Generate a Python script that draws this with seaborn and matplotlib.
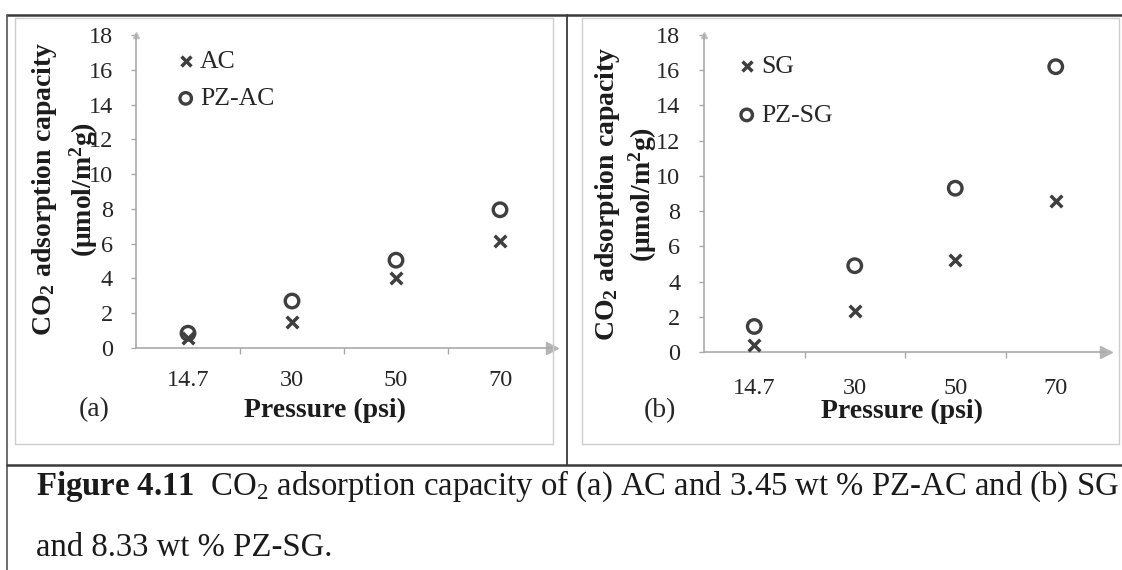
import matplotlib
matplotlib.use("Agg")
import matplotlib.pyplot as plt
from matplotlib.lines import Line2D
from matplotlib.ticker import FixedLocator, FixedFormatter, NullFormatter
import seaborn as sns
import pandas as pd

# ---- data -------------------------------------------------------------
pressure = ["14.7", "30", "50", "70"]          # psi, categorical axis
ac = [0.55, 1.5, 4.0, 6.15]                    # AC
pz_ac = [0.85, 2.7, 5.05, 7.95]                # 3.45 wt % PZ-AC
sg = [0.4, 2.35, 5.2, 8.55]                    # SG
pz_sg = [1.45, 4.9, 9.3, 16.2]                 # 8.33 wt % PZ-SG
y_ticks = [0, 2, 4, 6, 8, 10, 12, 14, 16, 18]

# ---- style ------------------------------------------------------------
sns.set_theme(style="white")
plt.rcParams["font.family"] = ["Liberation Serif", "DejaVu Serif"]
plt.rcParams["mathtext.fontset"] = "custom"
plt.rcParams["mathtext.rm"] = "Liberation Serif"
plt.rcParams["mathtext.it"] = "Liberation Serif:italic"
plt.rcParams["mathtext.bf"] = "Liberation Serif:bold"

W, H = 1122, 570
MARK = "#3f3f3f"
TXT = "#262626"
AXIS = "#a9a9a9"
FRAME = "#3a3a3a"
BOX = "#cdcdcd"


def fx(px):
    return px / W


def fy(py):
    return 1 - py / H


fig = plt.figure(figsize=(W / 100, H / 100), dpi=100)
fig.patch.set_facecolor("white")


def panel(rect, xs, cross, ring, names, ylab_pad, xlab_pad, legend_top, legend_x, spacing):
    ax = fig.add_axes(rect)
    ax.set_facecolor("none")
    df = pd.DataFrame({"pressure": xs, "cross": cross, "ring": ring})
    sns.scatterplot(data=df, x="pressure", y="cross", marker="x", s=70,
                    color=MARK, linewidth=2.5, label=names[0], ax=ax, zorder=3)
    sns.scatterplot(data=df, x="pressure", y="ring", marker="o", s=95,
                    facecolor="none", edgecolor=MARK, linewidth=2.4,
                    label=names[1], ax=ax, zorder=3)
    ax.set_xlim(-0.5, 3.5)
    ax.set_ylim(0, 18)
    ax.set_xlabel("")
    ax.set_ylabel("")

    # category boundaries carry the tick marks, centres carry the labels
    ax.xaxis.set_major_locator(FixedLocator([0.5, 1.5, 2.5]))
    ax.xaxis.set_major_formatter(NullFormatter())
    ax.xaxis.set_minor_locator(FixedLocator([0, 1, 2, 3]))
    ax.xaxis.set_minor_formatter(FixedFormatter(xs))
    ax.tick_params(axis="x", which="major", length=4.5, width=1.0,
                   color=AXIS, direction="out", bottom=True)
    ax.tick_params(axis="x", which="minor", length=0, pad=xlab_pad,
                   labelsize=17.5, labelcolor=TXT, bottom=True)
    ax.set_yticks(y_ticks)
    ax.set_yticklabels([str(v) for v in y_ticks])
    ax.tick_params(axis="y", length=3.6, width=1.0, color=AXIS,
                   direction="out", pad=ylab_pad, labelsize=17.5,
                   labelcolor=TXT, left=True)

    for side in ("top", "right"):
        ax.spines[side].set_visible(False)
    for side in ("left", "bottom"):
        ax.spines[side].set_color(AXIS)
        ax.spines[side].set_linewidth(1.2)
    ax.plot([1], [0], marker=">", ms=8, color="#b5b5b5",
            transform=ax.transAxes, clip_on=False)
    ax.plot([0], [1], marker="^", ms=5, color="#c0c0c0",
            transform=ax.transAxes, clip_on=False)

    ax.legend(loc="upper left", bbox_to_anchor=(fx(legend_x), fy(legend_top)),
              bbox_transform=fig.transFigure, frameon=False, borderpad=0,
              borderaxespad=0, handlelength=0.6, handletextpad=0.25,
              labelspacing=spacing, fontsize=18.5, markerscale=0.85,
              labelcolor=TXT)
    return ax


axL = panel([fx(136), fy(348), fx(552) - fx(136), (348 - 35) / H],
            pressure, ac, pz_ac, ["AC", "PZ-AC"],
            ylab_pad=13, xlab_pad=16, legend_top=50, legend_x=178, spacing=0.55)
axR = panel([fx(704), fy(352), fx(1106) - fx(704), (352 - 35) / H],
            pressure, sg, pz_sg, ["SG", "PZ-SG"],
            ylab_pad=13.5, xlab_pad=18.5, legend_top=55, legend_x=739, spacing=1.0)

# axis titles
for x1, x2, yc in ((45, 84, 189), (607, 643, 194)):
    fig.text(fx(x1), fy(yc), r"CO$_\mathbf{2}$ adsorption capacity", rotation=90,
             ha="center", va="center", fontsize=20, fontweight="bold", color="#1c1c1c")
    fig.text(fx(x2), fy(yc), r"(μmol/m$^\mathbf{2}$g)", rotation=90,
             ha="center", va="center", fontsize=20, fontweight="bold", color="#1c1c1c")

fig.text(fx(94), fy(410), "(a)", ha="center", va="center", fontsize=20, color=TXT)
fig.text(fx(325), fy(410), "Pressure (psi)", ha="center", va="center",
         fontsize=20, fontweight="bold", color="#1c1c1c")
fig.text(fx(660), fy(411), "(b)", ha="center", va="center", fontsize=20, color=TXT)
fig.text(fx(902), fy(411), "Pressure (psi)", ha="center", va="center",
         fontsize=20, fontweight="bold", color="#1c1c1c")

# page frame around the two panels and the caption
def rule(x0, y0, x1, y1, color, lw):
    fig.add_artist(Line2D([fx(x0), fx(x1)], [fy(y0), fy(y1)], color=color,
                          lw=lw, transform=fig.transFigure))

rule(15, 18, 553, 18, BOX, 1.0)
rule(15, 444, 553, 444, BOX, 1.0)
rule(15, 18, 15, 444, BOX, 1.0)
rule(553, 18, 553, 444, BOX, 1.0)
rule(582, 18, 1119, 18, BOX, 1.0)
rule(582, 444, 1119, 444, BOX, 1.0)
rule(582, 18, 582, 444, BOX, 1.0)
rule(1119, 18, 1119, 444, BOX, 1.0)
rule(7, 15, W, 15, FRAME, 1.8)
rule(7, 15, 7, H, "#555555", 1.2)
rule(567, 15, 567, 465, FRAME, 1.3)
rule(7, 465, W, 465, FRAME, 1.8)

# caption
fig.text(fx(36), fy(495),
         r"$\mathbf{Figure\ 4.11}$  CO$_2$ adsorption capacity of (a) AC and 3.45 wt % PZ-AC and (b) SG",
         ha="left", va="baseline", fontsize=23.6, color="#1a1a1a")
fig.text(fx(36), fy(556), "and 8.33 wt % PZ-SG.", ha="left", va="baseline",
         fontsize=23.6, color="#1a1a1a")

fig.savefig("out.png", dpi=100, facecolor="white")
